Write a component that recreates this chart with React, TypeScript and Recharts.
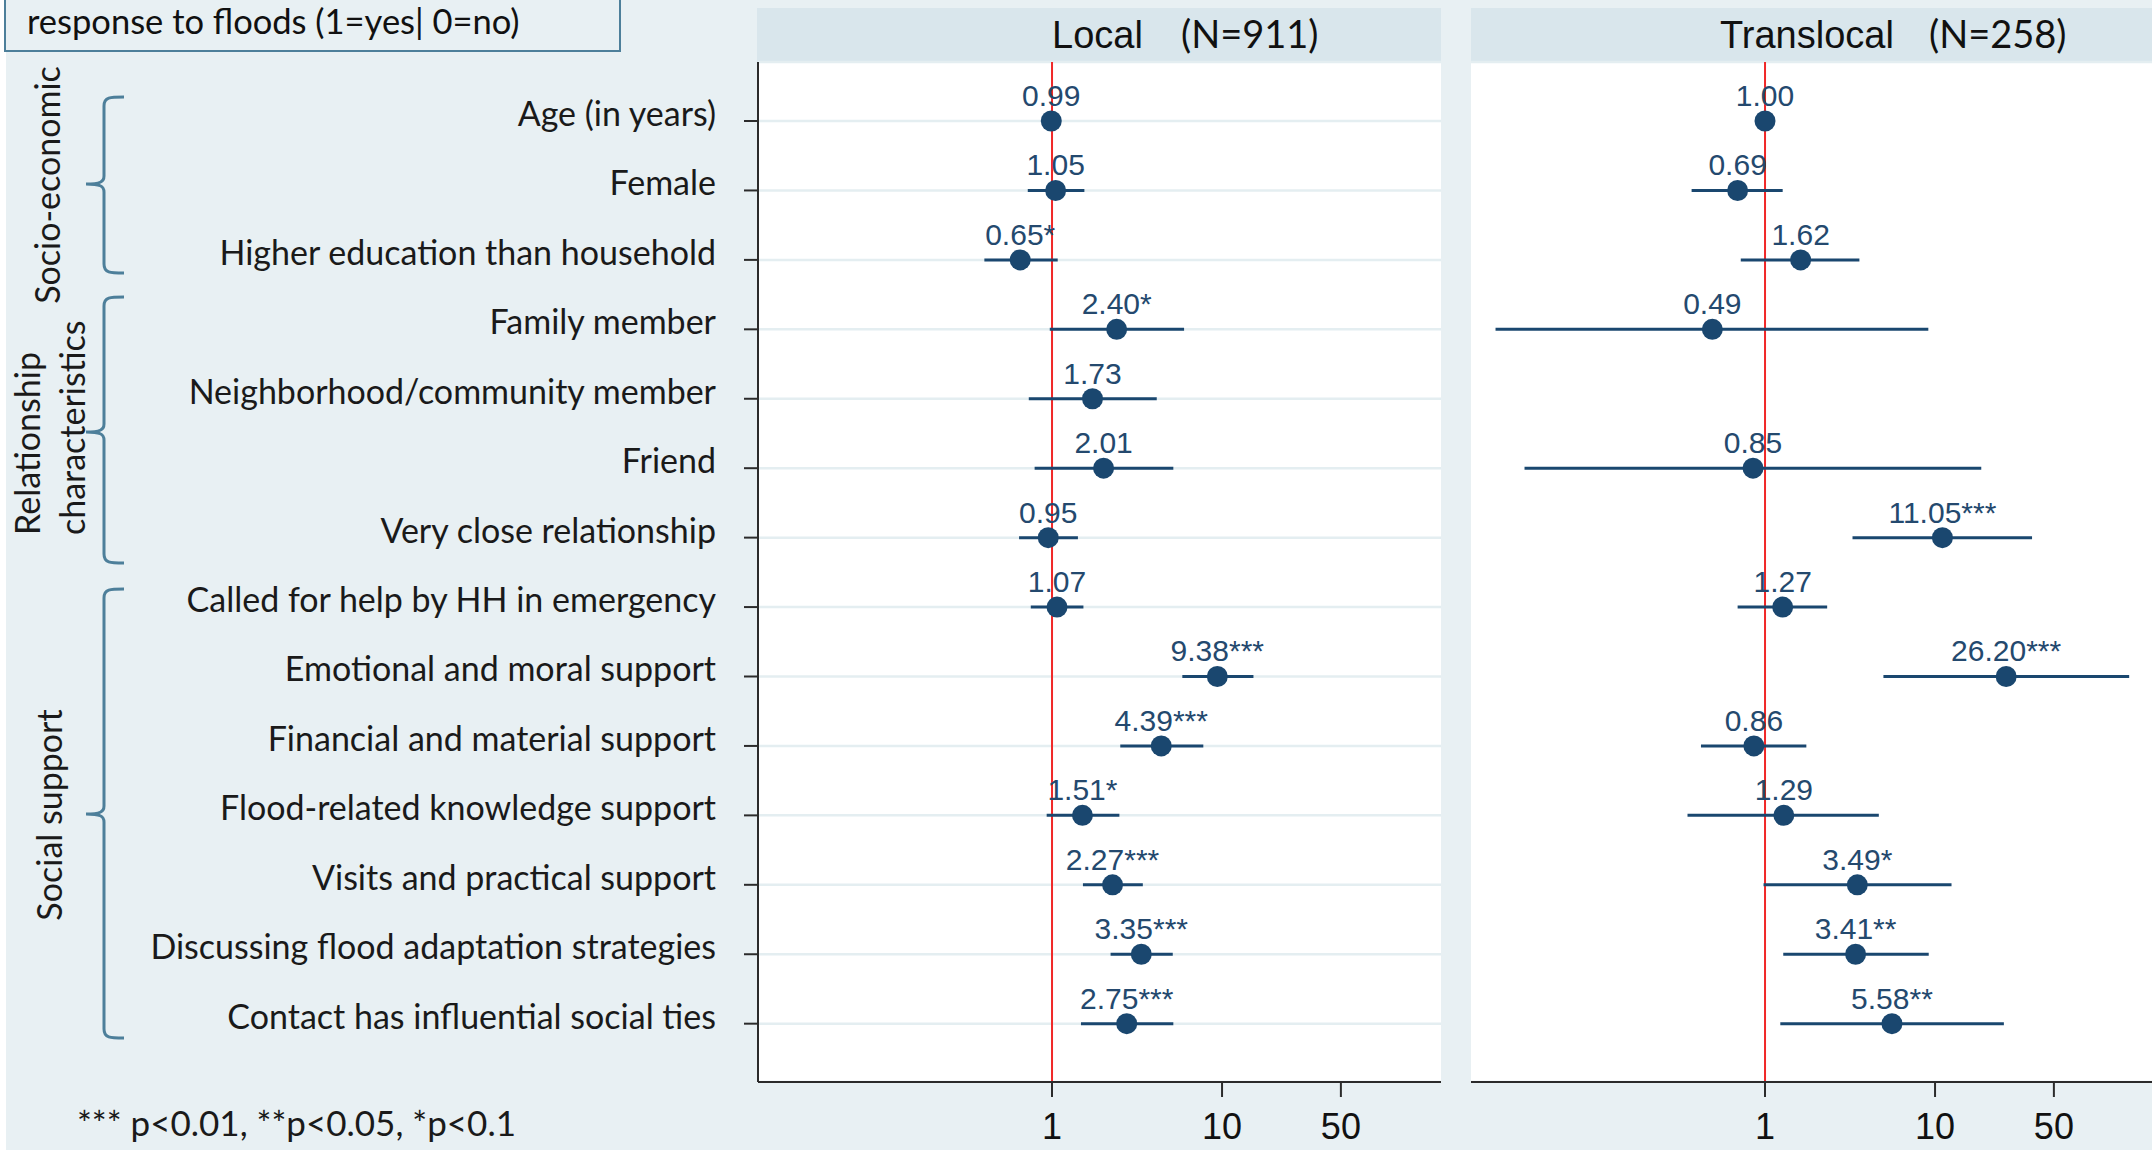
import { ScatterChart, Scatter, XAxis, YAxis, CartesianGrid, ReferenceLine, ErrorBar } from "recharts";

// odds ratios and 95% CIs
const labels = [
  "Age (in years)",
  "Female",
  "Higher education than household",
  "Family member",
  "Neighborhood/community member",
  "Friend",
  "Very close relationship",
  "Called for help by HH in emergency",
  "Emotional and moral support",
  "Financial and material support",
  "Flood-related knowledge support",
  "Visits and practical support",
  "Discussing flood adaptation strategies",
  "Contact has influential social ties",
];

const localOR = [0.99, 1.05, 0.65, 2.4, 1.73, 2.01, 0.95, 1.07, 9.38, 4.39, 1.51, 2.27, 3.35, 2.75];
const localLo = [0.98, 0.72, 0.4, 0.97, 0.73, 0.79, 0.64, 0.75, 5.84, 2.52, 0.93, 1.52, 2.21, 1.48];
const localHi = [1.01, 1.55, 1.08, 5.98, 4.13, 5.17, 1.42, 1.53, 15.3, 7.76, 2.49, 3.42, 5.13, 5.17];
const localStars = ["", "", "*", "*", "", "", "", "", "***", "***", "*", "***", "***", "***"];

const transOR = [1.0, 0.69, 1.62, 0.49, null, 0.85, 11.05, 1.27, 26.2, 0.86, 1.29, 3.49, 3.41, 5.58];
const transLo = [0.99, 0.37, 0.72, 0.026, null, 0.0385, 3.27, 0.69, 4.97, 0.42, 0.35, 0.98, 1.28, 1.23];
const transHi = [1.01, 1.27, 3.59, 9.13, null, 18.7, 37.2, 2.32, 138.6, 1.75, 4.67, 12.5, 9.18, 25.4];
const transStars = ["", "", "", "", "", "", "***", "", "***", "", "", "*", "**", "**"];

const xTicks = [1, 10, 50];
const rowTicks = labels.map((_, i) => i);

const NAVY = "#1a476f";
const BG = "#e8f0f3";
const HEAD = "#d9e6ec";
const BRACE = "#4d7f9a";
const ARIAL = "'Liberation Sans', Arial, sans-serif";
const CAL = "Lato, 'Open Sans', sans-serif";
const X_DOMAIN = [0.01865, 194];
const Y_DOMAIN = [-0.85, 13.84];

type Row = { y: number; or: number; err: [number, number]; label: string };

function buildRows(or: (number | null)[], lo: (number | null)[], hi: (number | null)[], stars: string[]): Row[] {
  const rows: Row[] = [];
  or.forEach((v, i) => {
    if (v == null || lo[i] == null || hi[i] == null) return;
    rows.push({ y: i, or: v, err: [v - (lo[i] as number), (hi[i] as number) - v], label: v.toFixed(2) + stars[i] });
  });
  return rows;
}

const localRows = buildRows(localOR, localLo, localHi, localStars);
const transRows = buildRows(transOR, transLo, transHi, transStars);

function Dot(props: { cx?: number; cy?: number; payload?: Row }) {
  const { cx, cy, payload } = props;
  if (cx == null || cy == null || !payload) return <g />;
  return (
    <g>
      <circle cx={cx} cy={cy} r={10.5} fill={NAVY} />
      <text x={cx} y={cy - 15} textAnchor="middle" fontFamily={ARIAL} fontSize={30} fill="#24496e">
        {payload.label}
      </text>
    </g>
  );
}

function XTick(props: { x?: number; y?: number; payload?: { value: number } }) {
  return (
    <text x={props.x} y={(props.y ?? 0) + 40} textAnchor="middle" fontFamily={ARIAL} fontSize={36} fill="#111">
      {props.payload?.value}
    </text>
  );
}

function YTick(props: { x?: number; y?: number; payload?: { value: number } }) {
  return (
    <text x={props.x} y={(props.y ?? 0) + 5} textAnchor="end" fontFamily={CAL} fontSize={34} fill="#1a1a1a">
      {labels[props.payload?.value ?? 0]}
    </text>
  );
}

function Panel({ rows, width, yWidth, showY, right }: { rows: Row[]; width: number; yWidth: number; showY: boolean; right: number }) {
  return (
    <ScatterChart width={width} height={1150} margin={{ top: 62, right, bottom: 0, left: 0 }}>
      <CartesianGrid vertical={false} stroke="#e4eef1" strokeWidth={2.5} fill="#ffffff" fillOpacity={1} />
      <XAxis
        type="number"
        dataKey="or"
        scale="log"
        domain={X_DOMAIN}
        allowDataOverflow
        ticks={xTicks}
        height={68}
        tickSize={15}
        axisLine={{ stroke: "#2b2b2b", strokeWidth: 2 }}
        tickLine={{ stroke: "#2b2b2b", strokeWidth: 2 }}
        tick={<XTick />}
      />
      <YAxis
        type="number"
        dataKey="y"
        reversed
        domain={Y_DOMAIN}
        allowDataOverflow
        ticks={rowTicks}
        interval={0}
        width={yWidth}
        tickSize={showY ? 14 : 0}
        tickMargin={28}
        axisLine={showY ? { stroke: "#2b2b2b", strokeWidth: 2 } : false}
        tickLine={showY ? { stroke: "#2b2b2b", strokeWidth: 2 } : false}
        tick={showY ? <YTick /> : false}
      />
      <ReferenceLine x={1} stroke="#f02828" strokeWidth={2} />
      <Scatter data={rows} isAnimationActive={false} shape={<Dot />}>
        <ErrorBar dataKey="err" direction="x" width={0} stroke={NAVY} strokeWidth={3} isAnimationActive={false} />
      </Scatter>
    </ScatterChart>
  );
}

// curly braces grouping the rows: [top, middle, bottom] in px
const braces = [
  [97, 184, 273],
  [297, 432, 563],
  [589, 814, 1038],
];

function bracePath(t: number, m: number, b: number) {
  const x = 104;
  return `M124 ${t} C110 ${t} ${x} ${t} ${x} ${t + 9} L${x} ${m - 8} C${x} ${m - 2} 100 ${m} 86 ${m} C100 ${m} ${x} ${m + 2} ${x} ${m + 8} L${x} ${b - 9} C${x} ${b} 110 ${b} 124 ${b}`;
}

function Decor() {
  return (
    <svg width={2152} height={1150} style={{ position: "absolute", left: 0, top: 0 }}>
      <rect x={0} y={0} width={6} height={1150} fill="#ffffff" />
      <rect x={5} y={-10} width={615} height={61} fill="none" stroke={BRACE} strokeWidth={2} />
      <text x={27} y={34} fontFamily={CAL} fontSize={34.5} fill="#111">response to floods (1=yes| 0=no)</text>
      <rect x={757} y={8} width={684} height={54} fill={HEAD} />
      <rect x={1471} y={8} width={681} height={54} fill={HEAD} />
      <text x={1052} y={48} fontFamily={ARIAL} fontSize={38} fill="#111">Local</text>
      <text x={1181} y={48} fontFamily={CAL} fontSize={38} fill="#111">(N=911)</text>
      <text x={1720} y={48} fontFamily={ARIAL} fontSize={38} fill="#111">Translocal</text>
      <text x={1929} y={48} fontFamily={CAL} fontSize={38} fill="#111">(N=258)</text>
      {braces.map(([t, m, b], i) => (
        <path key={i} d={bracePath(t, m, b)} fill="none" stroke={BRACE} strokeWidth={3} />
      ))}
      <text transform="translate(60,185) rotate(-90)" textAnchor="middle" fontFamily={CAL} fontSize={34} fill="#1a1a1a">Socio-economic</text>
      <text transform="translate(40,535) rotate(-90)" textAnchor="start" fontFamily={CAL} fontSize={34} fill="#1a1a1a">Relationship</text>
      <text transform="translate(85,535) rotate(-90)" textAnchor="start" fontFamily={CAL} fontSize={34} fill="#1a1a1a">characteristics</text>
      <text transform="translate(62,815) rotate(-90)" textAnchor="middle" fontFamily={CAL} fontSize={34} fill="#1a1a1a">Social support</text>
      <text x={77} y={1136} fontFamily={CAL} fontSize={35} fill="#1a1a1a">*** p&lt;0.01, **p&lt;0.05, *p&lt;0.1</text>
    </svg>
  );
}

export default function App() {
  return (
    <div style={{ position: "absolute", left: 0, top: 0, width: 2152, height: 1150, overflow: "hidden", background: BG }}>
      <Decor />
      <div style={{ position: "absolute", left: 0, top: 0 }}>
        <Panel rows={localRows} width={1445} yWidth={758} showY right={4} />
      </div>
      <div style={{ position: "absolute", left: 1441, top: 0 }}>
        <Panel rows={transRows} width={719} yWidth={30} showY={false} right={6} />
      </div>
    </div>
  );
}
